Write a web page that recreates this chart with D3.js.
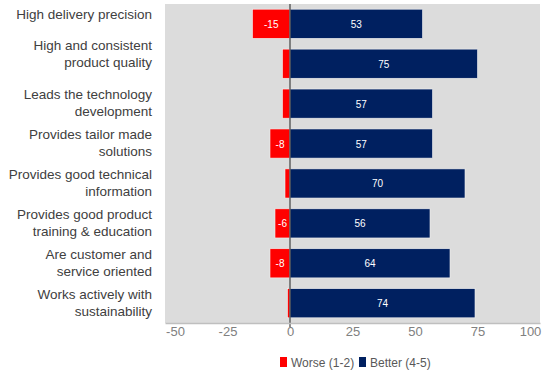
<!DOCTYPE html>
<html>
<head>
<meta charset="utf-8">
<script src="https://cdn.jsdelivr.net/npm/d3@7"></script>
<style>
body { margin: 0; background: #fff; }
text { font-family: "Liberation Sans", Arial, sans-serif; }
</style>
</head>
<body>
<div id="root"></div>
<script>
// chart values
var categories = ["High delivery precision",
                  "High and consistent|product quality",
                  "Leads the technology|development",
                  "Provides tailor made|solutions",
                  "Provides good technical|information",
                  "Provides good product|training & education",
                  "Are customer and|service oriented",
                  "Works actively with|sustainability"];
var worse = [-15, -3, -3, -8, -2, -6, -8, -1];
var better = [53, 75, 57, 57, 70, 56, 64, 74];
var ticks = [-50, -25, 0, 25, 50, 75, 100];
var seriesNames = ["Worse (1-2)", "Better (4-5)"];

var width = 560, height = 391;
var margin = { top: 4, right: 20, bottom: 68, left: 165 };

var svg = d3.select("#root").append("svg")
  .attr("width", width).attr("height", height);

var x = d3.scaleLinear().domain([-50, 100]).range([margin.left, width - margin.right]);
var y = d3.scaleBand().domain(d3.range(categories.length))
  .range([margin.top, height - margin.bottom]).paddingInner(0.27).paddingOuter(0.13);

// plot area
svg.append("rect")
  .attr("x", x(-50)).attr("y", margin.top)
  .attr("width", x(100) - x(-50)).attr("height", height - margin.bottom - margin.top)
  .attr("fill", "#dcdcdc");

// bars
svg.selectAll("rect.worse").data(worse).enter().append("rect")
  .attr("class", "worse")
  .attr("x", d => x(d)).attr("y", (d, i) => y(i))
  .attr("width", d => x(0) - x(d)).attr("height", y.bandwidth())
  .attr("fill", "#ff0000").attr("stroke", "#f2f2f2").attr("stroke-width", 0.6);

svg.selectAll("rect.better").data(better).enter().append("rect")
  .attr("class", "better")
  .attr("x", x(0)).attr("y", (d, i) => y(i))
  .attr("width", d => x(d) - x(0)).attr("height", y.bandwidth())
  .attr("fill", "#002060").attr("stroke", "#f2f2f2").attr("stroke-width", 0.6);

// value labels
svg.selectAll("text.bl").data(better).enter().append("text")
  .attr("x", d => (x(0) + x(d)) / 2).attr("y", (d, i) => y(i) + y.bandwidth() / 2 + 4)
  .attr("text-anchor", "middle").attr("fill", "#fff").attr("font-size", "10px")
  .text(d => d);

svg.selectAll("text.wl").data(worse.map((v, i) => ({ v: v, i: i })).filter(d => d.v <= -5))
  .enter().append("text")
  .attr("x", d => (x(0) + x(d.v)) / 2).attr("y", d => y(d.i) + y.bandwidth() / 2 + 4)
  .attr("text-anchor", "middle").attr("fill", "#fff").attr("font-size", "10px")
  .text(d => d.v);

// zero line
svg.append("line")
  .attr("x1", x(0)).attr("x2", x(0))
  .attr("y1", margin.top).attr("y2", height - margin.bottom + 4)
  .attr("stroke", "#404040").attr("stroke-width", 1.2);

// x axis
var xAxis = svg.append("g")
  .attr("transform", "translate(0," + (height - margin.bottom) + ")")
  .call(d3.axisBottom(x).tickValues(ticks).tickSize(0).tickPadding(4).tickFormat(d => String(d)));
xAxis.select(".domain").attr("stroke", "#bfbfbf").attr("stroke-width", 1.5);
xAxis.selectAll("text").attr("font-size", "13px").attr("fill", "#808080")
  .attr("font-family", "'Liberation Sans', Arial, sans-serif")
  .attr("dx", d => d === -50 ? 10 : d === 100 ? -10 : 0);

// category labels (first two rows sit a little higher, as in the original)
var catG = svg.selectAll("text.cat").data(categories).enter().append("text")
  .attr("text-anchor", "end").attr("font-size", "13.5px").attr("fill", "#404040")
  .attr("transform", (d, i) => "translate(152," + (y(i) + y.bandwidth() / 2 - (i < 2 ? 10 : 1)) + ")");
catG.each(function(d) {
  var lines = d.split("|");
  var t = d3.select(this);
  var start = lines.length === 1 ? 0 : -8.3;
  lines.forEach(function(l, k) {
    t.append("tspan").attr("x", 0).attr("y", start + k * 16.6 + 5).text(l);
  });
});

// legend
var legend = svg.append("g").attr("transform", "translate(280,357)");
var colors = ["#ff0000", "#002060"];
var offs = [0, 79];
seriesNames.forEach(function(n, i) {
  legend.append("rect").attr("x", offs[i]).attr("y", 0).attr("width", 7).attr("height", 10)
    .attr("fill", colors[i]);
  legend.append("text").attr("x", offs[i] + 11).attr("y", 9.5)
    .attr("font-size", "12px").attr("fill", "#595959").text(n);
});
</script>
</body>
</html>
